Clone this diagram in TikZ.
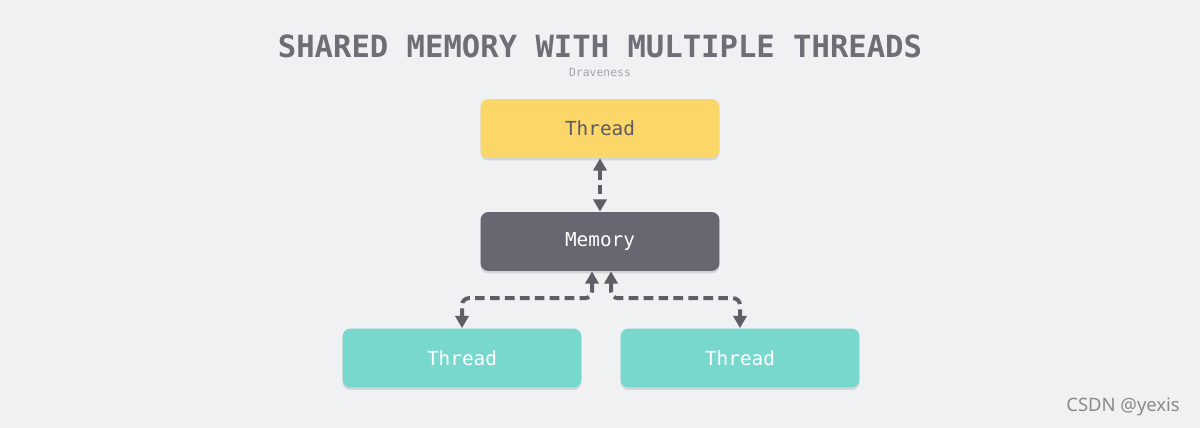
\documentclass[tikz,border=0pt]{standalone}
\usepackage{fontspec}
\setmainfont{DejaVu Sans}
\setmonofont{DejaVu Sans Mono}
\newfontfamily\wmfont{Noto Sans}
\usetikzlibrary{arrows.meta,shadows,calc}
\definecolor{bgc}{HTML}{F0F1F3}
\definecolor{yel}{HTML}{FBD669}
\definecolor{memc}{HTML}{676671}
\definecolor{teal}{HTML}{79D8CE}
\definecolor{arrc}{HTML}{5F5E67}
\definecolor{titc}{HTML}{6E6E76}
\definecolor{subc}{HTML}{A3A3AA}
\definecolor{darktxt}{HTML}{5C5B63}
\definecolor{wmc}{HTML}{8A8A8A}
\newcommand{\lowtxt}[1]{\raisebox{-1.2pt}{#1}}
\begin{document}
\begin{tikzpicture}[x=0.02cm,y=-0.02cm,
  box/.style={rounded corners=0.16cm, minimum width=4.78cm, minimum height=1.18cm,
    inner sep=0pt, font=\ttfamily\fontsize{11}{13}\selectfont,
    drop shadow={opacity=0.25, shadow xshift=0pt, shadow yshift=-1.4pt}},
  conn/.style={draw=arrc, line width=2.27pt, dash pattern=on 5.5pt off 3pt,
    rounded corners=0.14cm,
    {Triangle[length=7pt,width=7.5pt]}-{Triangle[length=7pt,width=7.5pt]}}
]
\fill[bgc] (0,0) rectangle (1200,428);
\useasboundingbox (0,0) rectangle (1200,428);
\node[text=titc, font=\ttfamily\bfseries\fontsize{17.4}{20}\selectfont] (title) at (600,46) {SHARED MEMORY WITH MULTIPLE THREADS};
\node[text=subc, font=\ttfamily\fontsize{6.5}{8}\selectfont] (sub) at (600,72) {Draveness};
\node[box, fill=yel, text=darktxt] (t1) at (600,128.5) {\lowtxt{Thread}};
\node[box, fill=memc, text=white] (mem) at (600,241.5) {\lowtxt{Memory}};
\node[box, fill=teal, text=white] (t2) at (462,358) {\lowtxt{Thread}};
\node[box, fill=teal, text=white] (t3) at (740,358) {\lowtxt{Thread}};
\draw[conn] (t1.south) -- (mem.north);
\draw[conn] ($(mem.south)+(-8,0)$) |- ($(t2.north)+(0,-30)$) -- (t2.north);
\draw[conn] ($(mem.south)+(11,0)$) |- ($(t3.north)+(0,-30)$) -- (t3.north);
\node[text=wmc, font=\wmfont\fontsize{10.5}{12}\selectfont, anchor=east] (wm) at (1186,407) {CSDN @yexis};
\end{tikzpicture}
\end{document}
